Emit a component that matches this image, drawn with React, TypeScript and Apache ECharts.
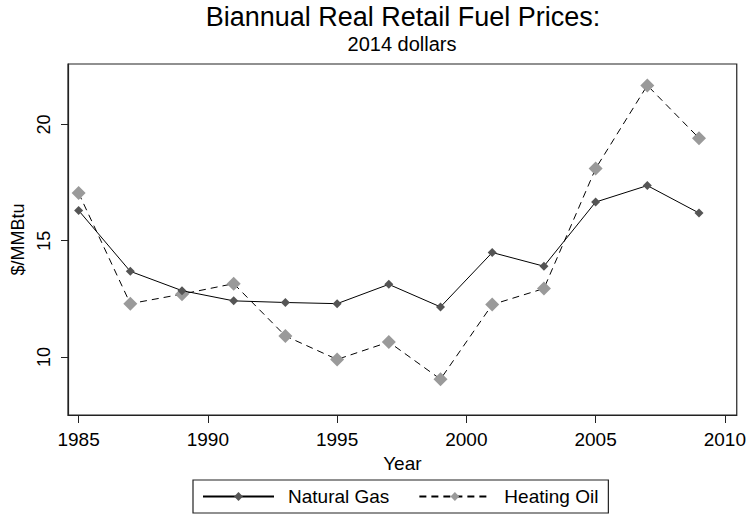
import React, { useEffect, useRef } from "react";
import * as echarts from "echarts";

const years = [1985, 1987, 1989, 1991, 1993, 1995, 1997, 1999, 2001, 2003, 2005, 2007, 2009];
const naturalGas = [16.3, 13.68, 12.85, 12.41, 12.34, 12.29, 13.12, 12.15, 14.49, 13.9, 16.66, 17.37, 16.19];
const heatingOil = [17.05, 12.29, 12.7, 13.15, 10.9, 9.89, 10.64, 9.04, 12.25, 12.94, 18.1, 21.68, 19.41];
const xTicks = [1985, 1990, 1995, 2000, 2005, 2010];
const yTicks = [10, 15, 20];
const titleText = "Biannual Real Retail Fuel Prices:";
const subtitleText = "2014 dollars";

const FONT = "'Liberation Sans', Arial, sans-serif";

export default function App() {
  const ref = useRef<HTMLDivElement>(null);
  useEffect(() => {
    if (!ref.current) return;
    const chart = echarts.init(ref.current, undefined, { renderer: "svg" });
    const option = {
      animation: false,
      backgroundColor: "#ffffff",
      textStyle: { fontFamily: FONT },
      graphic: [
        {
          type: "text",
          x: 403,
          y: 3,
          style: {
            text: titleText,
            font: `27px ${FONT}`,
            fill: "#000",
            textAlign: "center",
            textVerticalAlign: "top",
          },
        },
        {
          type: "text",
          x: 402,
          y: 34,
          style: {
            text: subtitleText,
            font: `20px ${FONT}`,
            fill: "#000",
            textAlign: "center",
            textVerticalAlign: "top",
          },
        },
      ],
      grid: {
        left: 68,
        right: 11.5,
        top: 64,
        bottom: 101,
        show: true,
        borderColor: "#222",
        borderWidth: 1.2,
        backgroundColor: "transparent",
      },
      legend: {
        left: 193,
        top: 480,
        orient: "horizontal",
        borderColor: "#222",
        borderWidth: 1.2,
        padding: [6, 10, 6, 9],
        itemWidth: 71,
        itemHeight: 11,
        itemGap: 29,
        textStyle: { fontSize: 19, color: "#000", fontFamily: FONT, lineHeight: 21, padding: [0, 0, 0, 9] },
        data: ["Natural Gas", "Heating Oil"],
      },
      xAxis: {
        type: "value",
        min: 1984.59,
        max: 2010.46,
        name: "Year",
        nameLocation: "middle",
        nameGap: 29,
        nameTextStyle: { fontSize: 19, color: "#000", fontFamily: FONT },
        axisLine: { show: true, onZero: false, lineStyle: { color: "#222", width: 1.2 } },
        axisTick: { show: true, length: 8, customValues: xTicks, lineStyle: { color: "#222" } },
        axisLabel: {
          show: true,
          customValues: xTicks,
          formatter: (v: number) => String(v),
          fontSize: 19,
          color: "#000",
          margin: 15,
          fontFamily: FONT,
        },
        splitLine: { show: false },
      },
      yAxis: {
        type: "value",
        min: 7.5,
        max: 22.6,
        name: "$/MMBtu",
        nameLocation: "middle",
        nameGap: 38,
        nameRotate: 90,
        nameTextStyle: { fontSize: 18, color: "#000", fontFamily: FONT },
        axisLine: { show: true, onZero: false, lineStyle: { color: "#222", width: 1.2 } },
        axisTick: { show: true, length: 7, customValues: yTicks, lineStyle: { color: "#222" } },
        axisLabel: {
          show: true,
          customValues: yTicks,
          formatter: (v: number) => String(v),
          rotate: 90,
          fontSize: 18,
          color: "#000",
          margin: 15,
          fontFamily: FONT,
        },
        splitLine: { show: false },
      },
      series: [
        {
          name: "Natural Gas",
          type: "line",
          data: years.map((y, i) => [y, naturalGas[i]]),
          symbol: "diamond",
          symbolSize: 9,
          itemStyle: { color: "#555555" },
          lineStyle: { color: "#000", width: 1, type: "solid" },
          z: 3,
        },
        {
          name: "Heating Oil",
          type: "line",
          data: years.map((y, i) => [y, heatingOil[i]]),
          symbol: "diamond",
          symbolSize: 14,
          itemStyle: { color: "#9a9a9a" },
          lineStyle: { color: "#000", width: 1, type: [7, 5] },
          z: 2,
        },
      ],
    };
    chart.setOption(option as any);
    return () => chart.dispose();
  }, []);
  return (
    <div
      ref={ref}
      style={{ position: "fixed", left: 0, top: 0, width: 749, height: 516, background: "#fff" }}
    />
  );
}
